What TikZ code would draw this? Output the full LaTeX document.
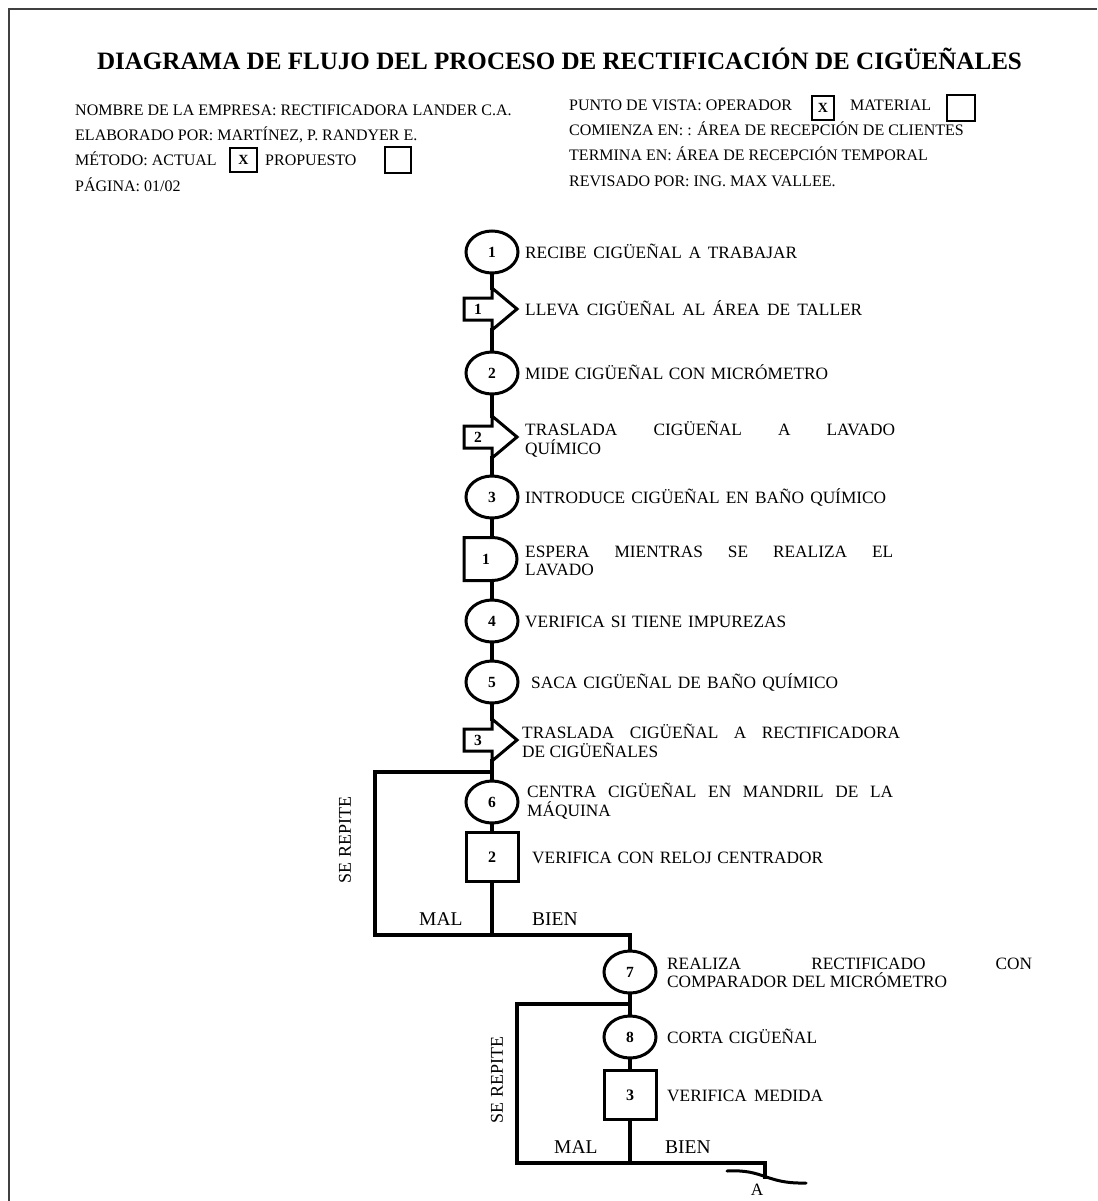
\documentclass[tikz,border=0pt]{standalone}
\usepackage{fontspec}
\setmainfont{Liberation Serif}
\usetikzlibrary{shapes.geometric,calc}
\newcommand\hfit[2]{\resizebox{#1pt}{\height}{#2}}
\newcommand\fl[2]{\makebox[#1pt][s]{#2}}
\newcommand\transp[3]{%
  \coordinate (#1) at (492,#2);
  \coordinate (#1-top) at (492,#2-21);
  \coordinate (#1-bot) at (492,#2+21);
  \draw[sym, line join=miter] (#1-top) -- ++(25,21) -- (#1-bot) -- ++(0,-10) -- ++(-28,0) -- ++(0,-22) -- ++(28,0) -- cycle;
  \node[num] (#1-n) at (478,#2) {#3};
}
\newcommand\delaysym[3]{%
  \coordinate (#1) at (492,#2);
  \coordinate (#1-top) at (492,#2-21.5);
  \coordinate (#1-bot) at (492,#2+21.5);
  \draw[sym, line join=miter] (#1-top) arc[start angle=90,end angle=-90,x radius=25pt,y radius=21.5pt] -- ++(-28,0) -- ++(0,-43) -- cycle;
  \node[num] (#1-n) at (486,#2) {#3};
}
\begin{document}
\begin{tikzpicture}[x=1pt,y=-1pt,
  flow/.style={line width=3.3pt, line join=miter, line cap=rect},
  sym/.style={draw, line width=3pt},
  opn/.style={ellipse, sym, minimum width=52pt, minimum height=42pt, inner sep=0pt, font=\bfseries\fontsize{15.5}{15.5}\selectfont},
  insp/.style={rectangle, sym, minimum width=52pt, minimum height=49pt, inner sep=0pt, font=\bfseries\fontsize{16}{16}\selectfont},
  num/.style={inner sep=0pt, font=\bfseries\fontsize{15.5}{15.5}\selectfont},
  ftxt/.style={anchor=base west, inner sep=0pt, font=\fontsize{17.3}{18.5}\selectfont},
  ftxt2/.style={anchor=west, inner sep=0pt, align=left, font=\fontsize{17.3}{18.5}\selectfont},
  ltxt/.style={anchor=base west, inner sep=0pt, font=\fontsize{19.5}{20}\selectfont},
  rtxt/.style={rotate=90, inner sep=0pt, font=\fontsize{18}{18}\selectfont},
  htxt/.style={anchor=base west, inner sep=0pt, font=\fontsize{16}{17}\selectfont},
  hbox/.style={draw, line width=1.4pt, inner sep=0pt, font=\bfseries\fontsize{14}{14}\selectfont},
  pageframe/.style={draw=black!75, line width=2pt}
]
\useasboundingbox (0,0) rectangle (1097,1201);
\fill[white] (0,0) rectangle (1097,1201);
% frame
\coordinate (fr1) at (9,1201);
\coordinate (fr2) at (9,9);
\coordinate (fr3) at (1097,9);
\draw[pageframe] (fr1) -- (fr2) -- (fr3);
% title
\node[anchor=base, inner sep=0pt, font=\bfseries\fontsize{25}{25}\selectfont] (title) at (559.5,70) {\hfit{925}{DIAGRAMA DE FLUJO DEL PROCESO DE RECTIFICACIÓN DE CIGÜEÑALES}};
% header left
\node[htxt] (h1) at (75,116) {NOMBRE DE LA EMPRESA: RECTIFICADORA LANDER C.A.};
\node[htxt] (h2) at (75,141) {ELABORADO POR: MARTÍNEZ, P. RANDYER E.};
\node[htxt] (h3) at (75,166) {MÉTODO: ACTUAL};
\node[hbox, minimum width=27pt, minimum height=24pt] (h3x) at (243.5,160) {X};
\node[htxt] (h3b) at (265,166) {PROPUESTO};
\node[hbox, minimum width=26pt, minimum height=26pt] (h3y) at (398,160) {};
\node[htxt] (h4) at (75,192) {PÁGINA: 01/02};
% header right
\node[htxt] (r1) at (569,111) {PUNTO DE VISTA: OPERADOR};
\node[hbox, minimum width=22pt, minimum height=24pt] (r1x) at (823,108) {X};
\node[htxt] (r1b) at (850,111) {MATERIAL};
\node[hbox, minimum width=28pt, minimum height=26pt] (r1y) at (961,108) {};
\node[htxt] (r2) at (569,136) {COMIENZA EN: : ÁREA DE RECEPCIÓN DE CLIENTES};
\node[htxt] (r3) at (569,161) {TERMINA EN: ÁREA DE RECEPCIÓN TEMPORAL};
\node[htxt] (r4) at (569,186) {REVISADO POR: ING. MAX VALLEE.};
% flow symbols
\node[opn] (c1) at (492,252) {1};
\transp{t1}{309}{1}
\node[opn] (c2) at (492,373) {2};
\transp{t2}{437}{2}
\node[opn] (c3) at (492,497) {3};
\delaysym{d1}{559}{1}
\node[opn] (c4) at (492,621) {4};
\node[opn] (c5) at (492,682) {5};
\transp{t3}{740}{3}
\node[opn] (c6) at (492,802) {6};
\node[insp] (s2) at (492,857) {2};
\node[opn] (c7) at (630,972) {7};
\node[opn] (c8) at (630,1037) {8};
\node[insp] (s3) at (630,1095) {3};
% flow texts
\node[ftxt] (x1) at (525,258) {\fl{272}{RECIBE CIGÜEÑAL A TRABAJAR}};
\node[ftxt] (x2) at (525,315) {\fl{337}{LLEVA CIGÜEÑAL AL ÁREA DE TALLER}};
\node[ftxt] (x3) at (525,379) {\fl{303}{MIDE CIGÜEÑAL CON MICRÓMETRO}};
\node[ftxt2] (x4) at (525,439) {\fl{370}{TRASLADA CIGÜEÑAL A LAVADO}\\QUÍMICO};
\node[ftxt] (x5) at (525,503) {\fl{361}{INTRODUCE CIGÜEÑAL EN BAÑO QUÍMICO}};
\node[ftxt2] (x6) at (525,561) {\fl{368}{ESPERA MIENTRAS SE REALIZA EL}\\LAVADO};
\node[ftxt] (x7) at (525,627) {\fl{261}{VERIFICA SI TIENE IMPUREZAS}};
\node[ftxt] (x8) at (531,688) {\fl{307}{SACA CIGÜEÑAL DE BAÑO QUÍMICO}};
\node[ftxt2] (x9) at (522,741) {\fl{378}{TRASLADA CIGÜEÑAL A RECTIFICADORA}\\DE CIGÜEÑALES};
\node[ftxt2] (x10) at (527,801) {\fl{366}{CENTRA CIGÜEÑAL EN MANDRIL DE LA}\\MÁQUINA};
\node[ftxt] (x11) at (532,863) {\fl{291}{VERIFICA CON RELOJ CENTRADOR}};
\node[ftxt2] (x12) at (667,973) {\fl{365}{REALIZA RECTIFICADO CON}\\COMPARADOR DEL MICRÓMETRO};
\node[ftxt] (x13) at (667,1043) {\fl{150}{CORTA CIGÜEÑAL}};
\node[ftxt] (x14) at (667,1101) {\fl{156}{VERIFICA MEDIDA}};
% loop labels
\node[ltxt] (mal1) at (419,925) {MAL};
\node[ltxt] (bien1) at (532,925) {BIEN};
\node[rtxt] (sr1) at (345,840) {SE REPITE};
\node[ltxt] (mal2) at (554,1153) {MAL};
\node[ltxt] (bien2) at (665,1153) {BIEN};
\node[rtxt] (sr2) at (497,1080) {SE REPITE};
% connector coordinates
\coordinate (l1t) at (492,772);
\coordinate (l1tl) at (375,772);
\coordinate (l1bl) at (375,935);
\coordinate (j1) at (492,935);
\coordinate (j2) at (630,935);
\coordinate (l2t) at (630,1004);
\coordinate (l2tl) at (517,1004);
\coordinate (l2bl) at (517,1163);
\coordinate (j3) at (630,1163);
\coordinate (j4) at (765,1163);
\coordinate (jend) at (765,1177);
\coordinate (wl) at (727,1171);
\coordinate (wr) at (806,1183);
% connectors
\draw[flow] (c1.south) -- (t1-top);
\draw[flow] (t1-bot) -- (c2.north);
\draw[flow] (c2.south) -- (t2-top);
\draw[flow] (t2-bot) -- (c3.north);
\draw[flow] (c3.south) -- (d1-top);
\draw[flow] (d1-bot) -- (c4.north);
\draw[flow] (c4.south) -- (c5.north);
\draw[flow] (c5.south) -- (t3-top);
\draw[flow] (t3-bot) -- (c6.north);
\draw[flow] (c6.south) -- (s2.north);
\draw[flow] (s2.south) -- (j1);
\draw[flow] (l1t) -- (l1tl) -- (l1bl) -- (j1) -- (j2) -- (c7.north);
\draw[flow] (c7.south) -- (c8.north);
\draw[flow] (c8.south) -- (s3.north);
\draw[flow] (s3.south) -- (j3);
\draw[flow] (l2t) -- (l2tl) -- (l2bl) -- (j3) -- (j4) -- (jend);
\draw[line width=3pt, line cap=round] (wl) .. controls (765,1169) and (765,1184) .. (wr);
\node[inner sep=0pt, font=\fontsize{17.3}{18}\selectfont] (A) at (757,1190) {A};
\end{tikzpicture}
\end{document}
